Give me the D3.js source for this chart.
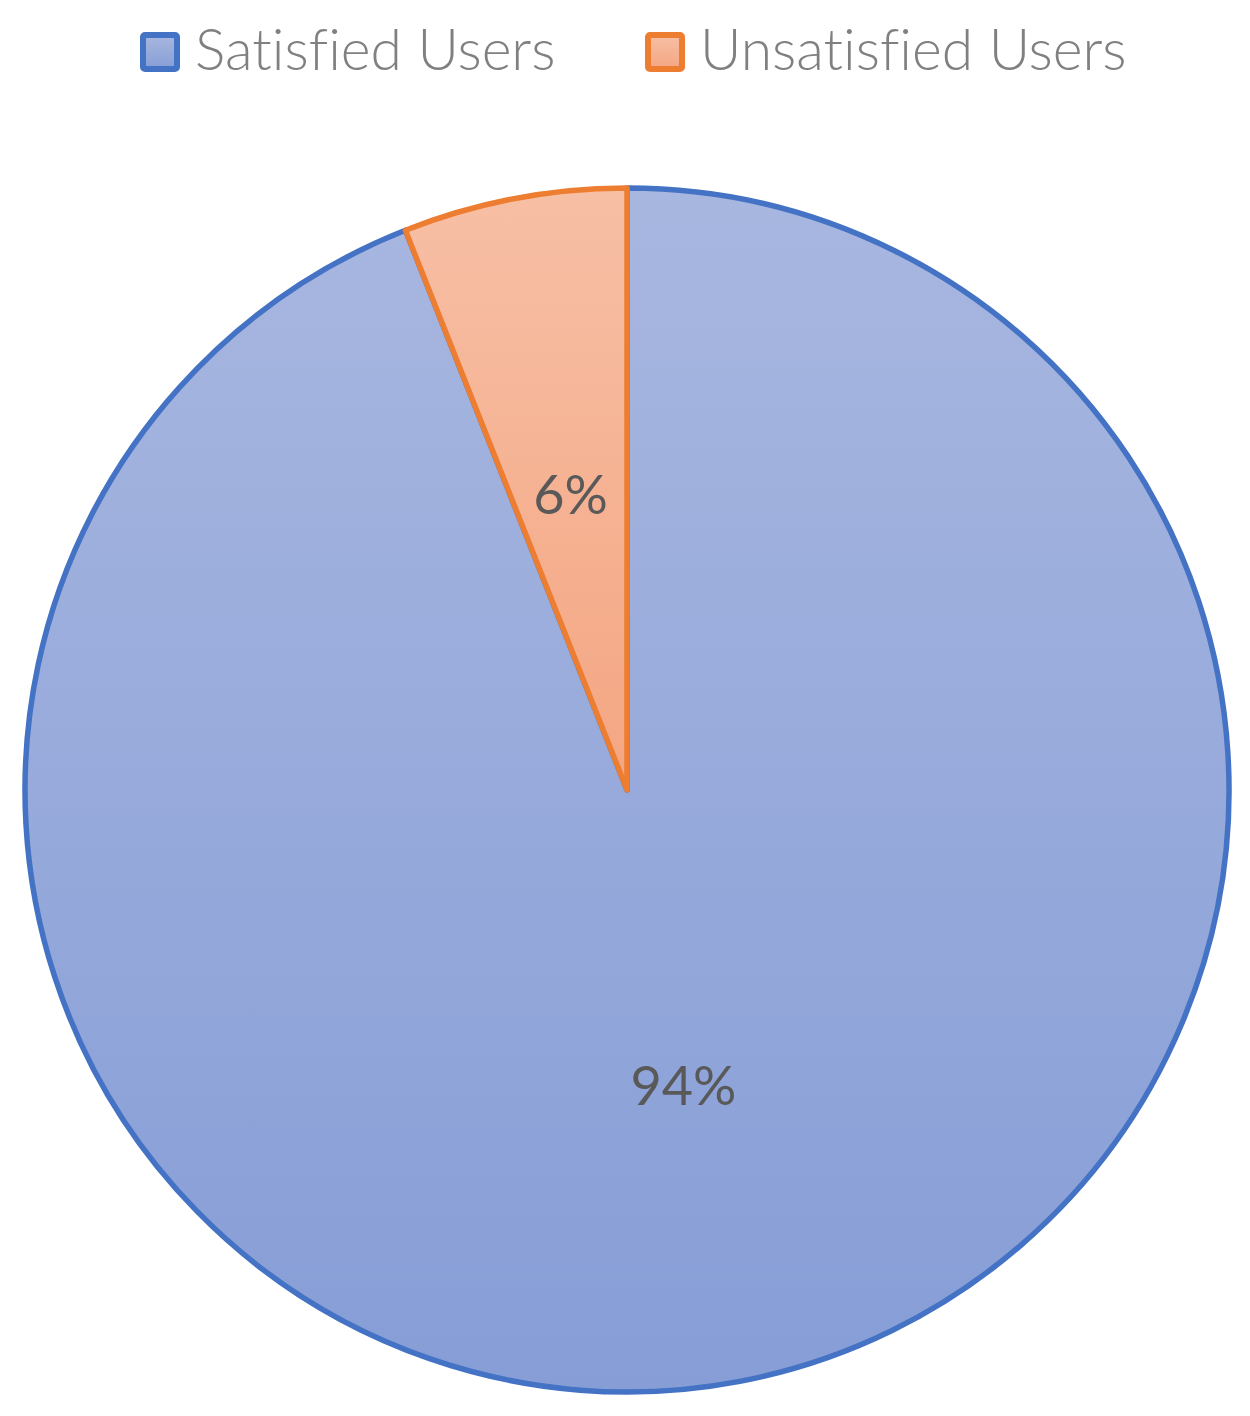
<!DOCTYPE html>
<html>
<head>
<meta charset="utf-8">
<script src="https://cdn.jsdelivr.net/npm/d3@7"></script>
<style>
  body { margin: 0; background: #fff; }
  text { font-variant-ligatures: none; }
</style>
</head>
<body>
<div id="chart"></div>
<script>
// data
var categories = ["Satisfied Users", "Unsatisfied Users"];
var values = [94, 6];
var labels = ["94%", "6%"];

var width = 1250, height = 1416;
var cx = 627, cy = 790, radius = 602;

var strokeColors = ["#4472C4", "#ED7D31"];
var gradTop = ["#A8B7E0", "#F7BFA5"];
var gradBottom = ["#869DD6", "#F4A682"];

var svg = d3.select("#chart")
    .append("svg")
    .attr("width", width)
    .attr("height", height);

// gradients for the slices
var defs = svg.append("defs");
categories.forEach(function (c, i) {
    var g = defs.append("linearGradient")
        .attr("id", "grad" + i)
        .attr("x1", 0).attr("y1", 0)
        .attr("x2", 0).attr("y2", 1);
    g.append("stop").attr("offset", "0%").attr("stop-color", gradTop[i]);
    g.append("stop").attr("offset", "100%").attr("stop-color", gradBottom[i]);
});

var data = categories.map(function (c, i) {
    return { name: c, value: values[i], label: labels[i], idx: i };
});

var pie = d3.pie().sort(null).value(function (d) { return d.value; });
var arc = d3.arc().innerRadius(0).outerRadius(radius);

var g = svg.append("g")
    .attr("transform", "translate(" + cx + "," + cy + ")");

var arcs = pie(data);

g.selectAll("path.slice")
    .data(arcs)
    .enter()
    .append("path")
    .attr("class", "slice")
    .attr("d", arc)
    .attr("fill", function (d) { return "url(#grad" + d.data.idx + ")"; })
    .attr("stroke", function (d) { return strokeColors[d.data.idx]; })
    .attr("stroke-width", 5.5)
    .attr("stroke-linejoin", "round");

// percentage labels at the centroid
g.selectAll("text.lbl")
    .data(arcs)
    .enter()
    .append("text")
    .attr("class", "lbl")
    .attr("x", function (d) { return arc.centroid(d)[0]; })
    .attr("y", function (d) { return arc.centroid(d)[1]; })
    .attr("dy", "0.36em")
    .attr("text-anchor", "middle")
    .attr("font-family", "Lato, 'Open Sans', sans-serif")
    .attr("font-size", 54)
    .attr("fill", "#595959")
    .text(function (d) { return d.data.label; });

// legend
var legendX = [140, 645];
var legend = svg.append("g");
data.forEach(function (d, i) {
    var item = legend.append("g")
        .attr("transform", "translate(" + legendX[i] + ",32)");
    item.append("rect")
        .attr("x", 3).attr("y", 3)
        .attr("width", 34).attr("height", 34)
        .attr("fill", "url(#grad" + i + ")")
        .attr("stroke", strokeColors[i])
        .attr("stroke-width", 6)
        .attr("rx", 2);
    item.append("text")
        .attr("x", 55)
        .attr("y", 38)
        .attr("font-family", "Lato, 'Open Sans', sans-serif")
        .attr("font-weight", 300)
        .attr("font-size", 57)
        .attr("fill", "#808080")
        .text(d.name);
});
</script>
</body>
</html>
